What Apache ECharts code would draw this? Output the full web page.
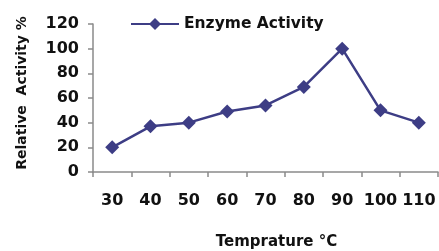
<!DOCTYPE html>
<html>
<head>
<meta charset="utf-8">
<script src="https://cdn.jsdelivr.net/npm/echarts@6/dist/echarts.min.js"></script>
<style>
  html, body { margin: 0; padding: 0; background: #fff; }
  #chart { width: 439px; height: 251px; }
</style>
</head>
<body>
<div id="chart"></div>
<script>
const temperatures = ["30", "40", "50", "60", "70", "80", "90", "100", "110"];
const activity = [20, 37, 40, 49, 54, 69, 100, 50, 40];
const yTicks = { min: 0, max: 120, interval: 20 };

const lineColor = "#3d3d85";
const textStyle = { fontFamily: "DejaVu Sans", fontWeight: "bold", color: "#111" };

const chart = echarts.init(document.getElementById("chart"));
chart.setOption({
    animation: false,
    grid: { left: 93, right: 1, top: 24, bottom: 79, containLabel: false, outerBoundsMode: "none" },
    legend: {
        left: 125,
        top: 11,
        itemWidth: 48,
        itemHeight: 15,
        itemGap: 5,
        textStyle: Object.assign({ fontSize: 15.5 }, textStyle),
        data: ["Enzyme Activity"]
    },
    xAxis: {
        type: "category",
        data: temperatures,
        boundaryGap: true,
        name: "Temprature °C",
        nameLocation: "middle",
        nameGap: 63,
        nameTextStyle: Object.assign({ fontSize: 15, padding: [0, 0, 0, 22] }, textStyle),
        axisLine: { lineStyle: { color: "#8a8a8a", width: 1.5 } },
        axisTick: { show: true, length: 5, lineStyle: { color: "#8a8a8a", width: 1.5 } },
        axisLabel: Object.assign({ fontSize: 16, margin: 21, interval: 0 }, textStyle)
    },
    yAxis: {
        type: "value",
        min: yTicks.min,
        max: yTicks.max,
        interval: yTicks.interval,
        name: "Relative  Activity %",
        nameLocation: "middle",
        nameGap: 64,
        nameTextStyle: Object.assign({ fontSize: 14, padding: [0, 0, 0, 10] }, textStyle),
        splitLine: { show: false },
        axisLine: { show: true, lineStyle: { color: "#8a8a8a", width: 1.5 } },
        axisTick: { show: true, length: 5, lineStyle: { color: "#8a8a8a", width: 1.5 } },
        axisLabel: Object.assign({ fontSize: 16, margin: 14 }, textStyle)
    },
    series: [{
        name: "Enzyme Activity",
        type: "line",
        data: activity,
        symbol: "diamond",
        symbolSize: 14,
        itemStyle: { color: lineColor },
        lineStyle: { color: lineColor, width: 2.5 }
    }]
});
</script>
</body>
</html>
